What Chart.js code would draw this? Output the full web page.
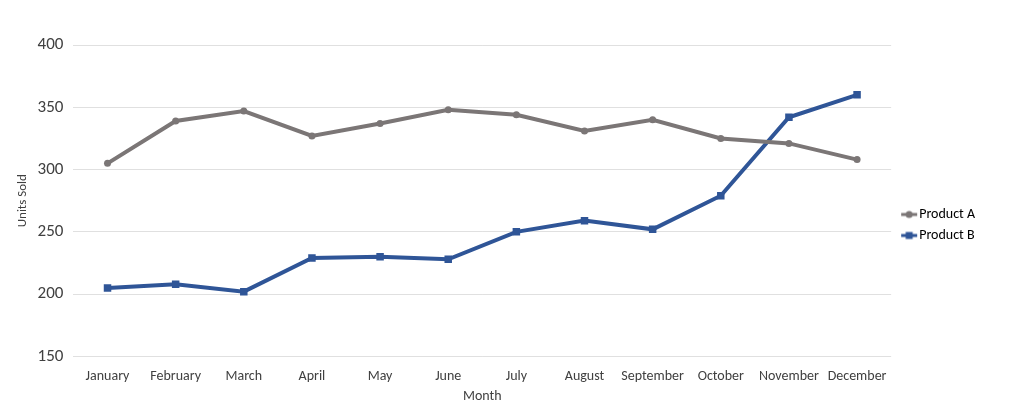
<!DOCTYPE html>
<html>
<head>
<meta charset="utf-8">
<script src="https://cdn.jsdelivr.net/npm/chart.js@4.4.1/dist/chart.umd.min.js"></script>
<style>
  html, body { margin: 0; padding: 0; background: #fff; }
  #wrap { width: 1024px; height: 408px; }
</style>
</head>
<body>
<div id="wrap"><canvas id="salesChart" width="1024" height="408"></canvas></div>
<script>
/* ----- dados ----- */
const months = ['January', 'February', 'March', 'April', 'May', 'June',
  'July', 'August', 'September', 'October', 'November', 'December'];
const productA = [305, 339, 347, 327, 337, 348, 344, 331, 340, 325, 321, 308];
const productB = [205, 208, 202, 229, 230, 228, 250, 259, 252, 279, 342, 360];
const yTicks = [150, 200, 250, 300, 350, 400];

const grayColor = '#7b7676';
const blueColor = '#2f5597';
const fontStack = "Carlito, Lato, 'Open Sans', sans-serif";

/* ícone da legenda: linha com marcador, encostado à direita do canvas */
function legendIcon(color, shape) {
  const c = document.createElement('canvas');
  c.width = 26; c.height = 10;
  const g = c.getContext('2d');
  g.strokeStyle = color;
  g.lineWidth = 3;
  g.beginPath();
  g.moveTo(9, 5);
  g.lineTo(25, 5);
  g.stroke();
  g.fillStyle = color;
  if (shape === 'circle') {
    g.beginPath();
    g.arc(17, 5, 3.5, 0, Math.PI * 2);
    g.fill();
  } else {
    g.fillRect(13.5, 1.5, 7, 7);
  }
  return c;
}

const icons = [legendIcon(grayColor, 'circle'), legendIcon(blueColor, 'rect')];

new Chart(document.getElementById('salesChart'), {
  type: 'line',
  data: {
    labels: months,
    datasets: [
      {
        label: 'Product A',
        data: productA,
        borderColor: grayColor,
        backgroundColor: grayColor,
        borderWidth: 4,
        pointStyle: 'circle',
        pointRadius: 3.5,
        pointBorderWidth: 0,
        pointHoverRadius: 3.5,
        tension: 0
      },
      {
        label: 'Product B',
        data: productB,
        borderColor: blueColor,
        backgroundColor: blueColor,
        borderWidth: 4,
        pointStyle: 'rect',
        pointRadius: 5.3,
        pointBorderWidth: 0,
        pointHoverRadius: 5.3,
        tension: 0
      }
    ]
  },
  options: {
    responsive: false,
    animation: false,
    layout: { padding: { left: 6, right: 39, top: 45, bottom: 3 } },
    plugins: {
      tooltip: { enabled: false },
      legend: {
        position: 'right',
        labels: {
          usePointStyle: true,
          pointStyleWidth: 14,
          color: '#404040',
          font: { family: fontStack, size: 14 },
          padding: 7,
          generateLabels(chart) {
            return chart.data.datasets.map((ds, i) => ({
              text: ds.label,
              fillStyle: ds.borderColor,
              strokeStyle: ds.borderColor,
              pointStyle: icons[i],
              lineWidth: 0,
              datasetIndex: i,
              hidden: false
            }));
          }
        }
      }
    },
    scales: {
      x: {
        offset: true,
        grid: { display: false, drawTicks: false },
        border: { display: false },
        ticks: {
          color: '#404040',
          font: { family: fontStack, size: 14 },
          maxRotation: 0,
          autoSkip: false,
          padding: 12
        },
        title: {
          display: true,
          text: 'Month',
          color: '#404040',
          font: { family: fontStack, size: 14 },
          padding: { top: -9, bottom: 0 }
        }
      },
      y: {
        min: yTicks[0],
        max: yTicks[yTicks.length - 1],
        grid: { color: '#e0e0e0', drawTicks: false, lineWidth: 1 },
        border: { display: false },
        ticks: {
          stepSize: yTicks[1] - yTicks[0],
          color: '#404040',
          font: { family: fontStack, size: 17 },
          padding: 10
        },
        title: {
          display: true,
          text: 'Units Sold',
          color: '#404040',
          font: { family: fontStack, size: 13 },
          padding: { top: 9, bottom: -3 }
        }
      }
    }
  }
});
</script>
</body>
</html>
